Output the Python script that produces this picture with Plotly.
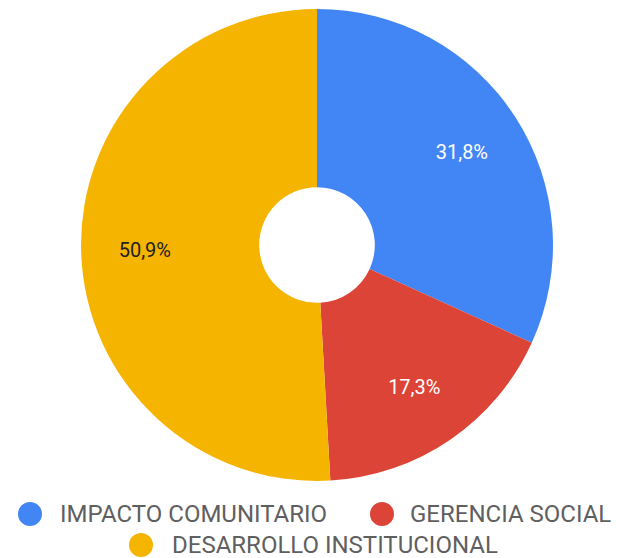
import plotly.graph_objects as go

labels = ["IMPACTO COMUNITARIO", "GERENCIA SOCIAL", "DESARROLLO INSTITUCIONAL"]
values = [31.8, 17.3, 50.9]
text_labels = ["31,8%", "17,3%", "50,9%"]
colors = ["#4285F4", "#DB4437", "#F4B400"]
text_colors = ["#FFFFFF", "#FFFFFF", "#222222"]

# legend layout (row, x of marker centre, x of text start) in pixels
legend_pos = [(0, 22, 50), (0, 374, 400), (1, 133, 162)]
row_y = [506, 537]

W, H = 621, 558
dom = dict(x=[0.1176, 0.8776], y=[0.1524, 0.9982])

fig = go.Figure()
fig.add_trace(go.Pie(
    labels=labels, values=values, textinfo="none",
    marker=dict(colors=colors, line=dict(width=0)),
    sort=False, direction="clockwise", rotation=0, hole=0.245,
    showlegend=False, domain=dom, hoverinfo="skip",
))
# transparent ring to place the percentages at ~0.73 of the radius
fig.add_trace(go.Pie(
    labels=labels, values=values, text=text_labels, textinfo="text",
    textposition="inside", insidetextorientation="horizontal",
    marker=dict(colors=["rgba(0,0,0,0)"] * 3, line=dict(width=0)),
    textfont=dict(family="Roboto", size=20, color=text_colors),
    sort=False, direction="clockwise", rotation=0, hole=0.46,
    showlegend=False, domain=dom,
))

legend_font = dict(family="Roboto", size=24, color="#5f5f5f")
shapes, annotations = [], []
for lab, col, (row, mx, tx) in zip(labels, colors, legend_pos):
    yc = 1 - row_y[row] / H
    r = 12
    shapes.append(dict(type="circle", xref="paper", yref="paper",
                       x0=(mx - r) / W, x1=(mx + r) / W,
                       y0=yc - r / H, y1=yc + r / H,
                       fillcolor=col, line=dict(width=0)))
    annotations.append(dict(text=lab, xref="paper", yref="paper",
                            x=tx / W, y=yc, xanchor="left", yanchor="middle",
                            showarrow=False, font=legend_font))

fig.update_layout(
    width=W, height=H,
    margin=dict(l=0, r=0, t=0, b=0),
    paper_bgcolor="white", plot_bgcolor="white",
    shapes=shapes, annotations=annotations,
)

fig.write_html("out.html")
